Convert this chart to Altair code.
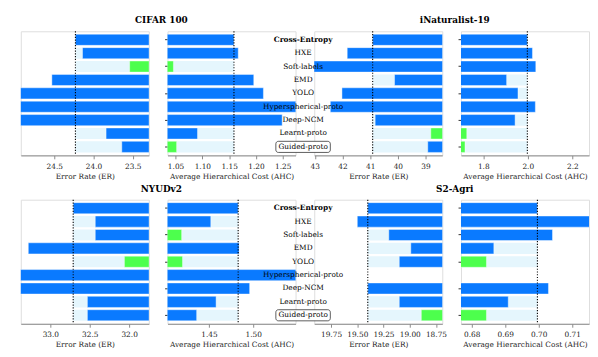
import altair as alt
import pandas as pd

methods = ["Cross-Entropy", "HXE", "Soft-labels", "EMD", "YOLO",
           "Hyperspherical-proto", "Deep-NCM", "Learnt-proto", "Guided-proto"]

# ---- values ----
cifar_er = [24.23, 24.14, 23.54, 24.53, 25.10, 25.20, 25.00, 23.84, 23.64]
cifar_ahc = [1.159, 1.167, 1.046, 1.196, 1.214, 1.290, 1.249, 1.091, 1.052]
inat_er = [40.91, 41.83, 43.10, 40.12, 42.02, 42.44, 40.82, 38.81, 38.92]
inat_ahc = [1.998, 2.021, 2.036, 1.905, 1.956, 2.034, 1.943, 1.726, 1.718]
nyud_er = [32.71, 32.43, 32.43, 33.28, 32.06, 33.50, 33.45, 32.53, 32.53]
nyud_ahc = [1.483, 1.452, 1.419, 1.484, 1.420, 1.560, 1.496, 1.458, 1.436]
s2_er = [19.40, 19.50, 19.20, 18.99, 19.10, None, 19.40, 19.10, 18.89]
s2_ahc = [0.6996, 0.7170, 0.7041, 0.6866, 0.6844, None, 0.7029, 0.6909, 0.6844]

# highlighted (best) methods per panel
cifar_er_best = ["Soft-labels"]
cifar_ahc_best = ["Soft-labels", "Guided-proto"]
inat_er_best = ["Learnt-proto"]
inat_ahc_best = ["Learnt-proto", "Guided-proto"]
nyud_er_best = ["YOLO"]
nyud_ahc_best = ["Soft-labels", "YOLO"]
s2_er_best = ["Guided-proto"]
s2_ahc_best = ["YOLO", "Guided-proto"]

# axis ranges and tick labels
cifar_er_dom = [23.296, 24.925]
cifar_ahc_dom = [1.035, 1.274]
inat_er_dom = [38.395, 43.02]
inat_ahc_dom = [1.700, 2.275]
nyud_er_dom = [31.75, 33.375]
nyud_ahc_dom = [1.403, 1.548]
s2_er_dom = [18.69, 19.91]
s2_ahc_dom = [0.6768, 0.715]

cifar_er_ticks = [24.5, 24.0, 23.5]
cifar_ahc_ticks = [1.05, 1.10, 1.15, 1.20, 1.25]
inat_er_ticks = [43, 42, 41, 40, 39]
inat_ahc_ticks = [1.8, 2.0, 2.2]
nyud_er_ticks = [33.0, 32.5, 32.0]
nyud_ahc_ticks = [1.45, 1.50]
s2_er_ticks = [19.75, 19.50, 19.25, 19.00, 18.75]
s2_ahc_ticks = [0.68, 0.69, 0.70, 0.71]

titles = ["CIFAR 100", "iNaturalist-19", "NYUDv2", "S2-Agri"]
y_tick_methods = ["Cross-Entropy", "Soft-labels", "YOLO", "Deep-NCM", "Guided-proto"]

BLUE = "#0a7aff"
GREEN = "#4dff4d"
LIGHT = "#e5f6fd"
FONT = "DejaVu Serif"
W, H = 130, 126
FS = 7.5


def frame(vals, best):
    ce = vals[0]
    rows = []
    for m, v in zip(methods, vals):
        if v is None:
            continue
        rows.append({"method": m, "value": v, "ce": ce, "best": m in best})
    return pd.DataFrame(rows), ce


def panel(vals, best, dom, ticks, fmt, kind, labels=False, title=None):
    df, ce = frame(vals, best)
    edge = W if kind == "ER" else 0
    xtitle = "Error Rate (ER)" if kind == "ER" else "Average Hierarchical Cost (AHC)"
    xscale = alt.Scale(domain=dom, reverse=(kind == "ER"), nice=False, zero=False)
    xaxis = alt.Axis(values=ticks, format=fmt, title=xtitle, grid=False,
                     domainColor="#8a8a8a", tickColor="#8a8a8a", tickSize=3.5,
                     labelFont=FONT, titleFont=FONT, labelFontSize=FS, titleFontSize=FS,
                     titleFontWeight="normal", labelColor="#222", titleColor="#222",
                     labelPadding=3.5, titlePadding=3, labelFlush=False)
    yscale = alt.Scale(domain=methods, paddingInner=0.17, paddingOuter=0.22)
    if kind == "AHC":
        yaxis = alt.Axis(values=y_tick_methods, labels=False, domain=False, ticks=True,
                         tickSize=3, tickColor="#333", title=None)
    else:
        yaxis = None
    Y = alt.Y("method:N", scale=yscale, axis=yaxis)
    base = alt.Chart(df)
    band = base.mark_bar(color=LIGHT, clip=True).encode(
        y=Y, x=alt.X("ce:Q", scale=xscale, axis=xaxis), x2=alt.value(edge),
    )
    bars = base.mark_bar(clip=True, stroke="white", strokeOpacity=0.55, strokeWidth=0.8).encode(
        y=Y, x=alt.X("value:Q", scale=xscale, axis=xaxis), x2=alt.value(edge),
        color=alt.condition("datum.best", alt.value(GREEN), alt.value(BLUE)),
    )
    rule = alt.Chart(pd.DataFrame({"v": [ce]})).mark_rule(
        color="black", strokeDash=[1.2, 1.6], strokeWidth=1.1
    ).encode(x=alt.X("v:Q", scale=xscale, axis=xaxis))
    layers = [band, bars, rule]
    if labels:
        lbase = alt.Chart(pd.DataFrame({"method": methods}))
        box = lbase.mark_rect(fill="white", stroke="#333", strokeWidth=0.8,
                              cornerRadius=2.5).encode(
            y=Y, x=alt.value(-39), x2=alt.value(16.3),
        ).transform_filter(alt.datum.method == "Guided-proto")
        txt = lbase.mark_text(font=FONT, fontSize=FS, color="black", align="center",
                              baseline="middle").encode(
            y=Y, x=alt.value(-11.3), text="method:N",
        ).transform_filter(alt.datum.method != "Cross-Entropy")
        txtb = lbase.mark_text(font=FONT, fontSize=FS, color="black", align="center",
                               baseline="middle", fontWeight="bold").encode(
            y=Y, x=alt.value(-11.3), text="method:N",
        ).transform_filter(alt.datum.method == "Cross-Entropy")
        layers += [box, txt, txtb]
    if title is not None:
        ttl = alt.Chart(pd.DataFrame({"t": [title]})).mark_text(
            font=FONT, fontSize=9, fontWeight="bold", color="black",
            align="center", baseline="middle").encode(
            x=alt.value(-6.3), y=alt.value(-11), text="t:N")
        layers.append(ttl)
    return alt.layer(*layers).properties(width=W, height=H)


panels = [
    panel(cifar_er, cifar_er_best, cifar_er_dom, cifar_er_ticks, ".1f", "ER"),
    panel(cifar_ahc, cifar_ahc_best, cifar_ahc_dom, cifar_ahc_ticks, ".2f", "AHC", title=titles[0]),
    panel(inat_er, inat_er_best, inat_er_dom, inat_er_ticks, "d", "ER", labels=True),
    panel(inat_ahc, inat_ahc_best, inat_ahc_dom, inat_ahc_ticks, ".1f", "AHC", title=titles[1]),
    panel(nyud_er, nyud_er_best, nyud_er_dom, nyud_er_ticks, ".1f", "ER"),
    panel(nyud_ahc, nyud_ahc_best, nyud_ahc_dom, nyud_ahc_ticks, ".2f", "AHC", title=titles[2]),
    panel(s2_er, s2_er_best, s2_er_dom, s2_er_ticks, ".2f", "ER", labels=True),
    panel(s2_ahc, s2_ahc_best, s2_ahc_dom, s2_ahc_ticks, ".2f", "AHC", title=titles[3]),
]

chart = alt.concat(*panels, columns=4, spacing={"row": 45, "column": 19}, bounds="flush").properties(
    padding={"left": 12, "top": 5, "right": 0, "bottom": 0}
).configure_view(stroke=None).configure(background="white")

chart.save("out.html", embed_options={"renderer": "svg", "actions": False})
